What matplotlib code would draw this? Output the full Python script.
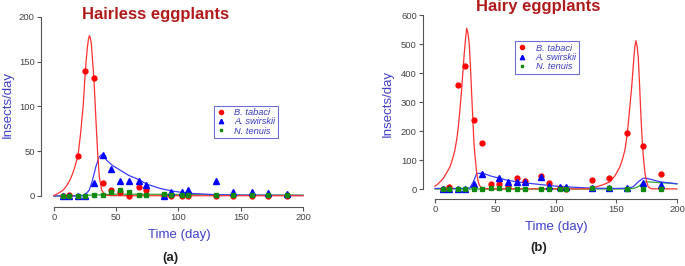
import numpy as np
import matplotlib
matplotlib.use("Agg")
import matplotlib.pyplot as plt

plt.rcParams['font.family'] = ['Liberation Sans', 'DejaVu Sans']

# === DATA ===
days = [7, 12, 19, 25, 32, 39, 46, 53, 60, 68, 74, 88, 94, 103, 108, 130, 144, 159, 172, 187]

# (a) hairless eggplants
a_tabaci = [0, 1.5, 45, 140, 132, 15, 7, 4, 0, 10, 7, 0, 0, 0, 0, 0, 0, 0, 0, 0]
a_swirskii = [0, 0, 0, 0, 14, 46, 30, 17, 17, 17, 12, 0, 5, 5, 7, 17, 5, 5, 3, 2]
a_tenuis = [0, 0, 0, 0, 1, 1, 4, 7, 5, 1, 1, 2, 1, 1, 1, 1, 1, 1, 1, 1]

a_fit_tabaci_x = [0, 0.8, 4, 7.5, 10, 12.9, 15, 16.9, 19.3, 21.4, 23.6, 25.2, 26.8, 27.7, 28.4,
                  29.2, 30, 32.1, 33.7, 35.1, 36.4, 38.3, 41, 45, 60, 200]
a_fit_tabaci_y = [0.5, 1, 3.5, 6.7, 11, 18, 25, 33, 45, 70, 103, 140, 166, 175, 179,
                  177, 170, 131, 85, 48, 21.5, 6.7, 1, 0.4, 0.3, 0.3]
a_fit_swirskii_x = [0, 22, 24.9, 28.4, 31, 33.7, 36.4, 38.8, 42.3, 47, 53, 60, 67.7, 75, 85, 95,
                    108, 130, 150, 200]
a_fit_swirskii_y = [0, 0, 1, 6.7, 18, 33, 44, 46.5, 40, 34, 29, 23, 18.6, 13, 8.5, 5.5,
                    3, 1.5, 1, 0.5]
a_fit_tenuis_x = [0, 20, 40, 50, 70, 90, 110, 150, 200]
a_fit_tenuis_y = [0, 0.5, 1.5, 2, 2, 1.8, 1.5, 1, 1]

# (b) hairy eggplants
b_tabaci = [0, 6, 360, 425, 238, 158, 18, 18, 8, 37, 28, 46, 21, 2, 0, 31, 39, 192, 149, 53]
b_swirskii_days = [7, 12, 19, 25, 32, 39, 53, 60, 68, 74, 88, 94, 103, 108, 130, 144, 159, 172, 187]
b_swirskii = [0, 0, 0, 0, 17, 51, 39, 23, 24, 25, 43, 10, 8, 8, 2, 5, 5, 22, 14]
b_tenuis = [0, 0, 0, 0, 0, 0, 2, 2, 0, 0, 0, 0, 0, 0, 0, 3, 3, 0, 0, 0]

b_fit_tabaci_x = [0, 1.4, 4, 6.9, 9.5, 12.4, 14.5, 16.5, 18, 19.3, 20.7, 22, 23.1, 24.2, 25.3, 26.2,
                  27.2, 28.3, 29.3, 30.3, 31.3, 32.2, 33.4, 34.5, 35.5, 36.6, 38, 40, 45,
                  128, 133.6, 139, 144.6, 149, 152.9, 155, 157, 158.5, 159.8, 161.2, 162.6,
                  163.7, 164.7, 165.4, 166.1, 167, 168, 169, 170, 170.8, 171.6, 172.6, 173.6,
                  174.9, 176.3, 178, 180, 200]
b_fit_tabaci_y = [10, 13.8, 24, 37, 55, 77, 103, 135, 172, 215, 277, 342, 405, 469, 520, 555,
                  540, 503, 425, 330, 240, 158, 100, 54, 30, 14, 6, 2, 0.5,
                  0.5, 8, 15, 25, 47, 77, 103, 135, 178, 227, 290, 353, 415, 469, 498, 512,
                  495, 457, 370, 273, 205, 146, 95, 54, 25, 8, 2, 0.5, 0.5]
b_fit_swirskii_x = [0, 25, 28.9, 31.7, 34.5, 40, 46, 53.7, 60, 67.5, 75, 88, 100, 115, 130, 150,
                    160, 163.9, 168, 172, 175, 186, 200]
b_fit_swirskii_y = [2, 2, 4, 25, 54, 54, 45, 37, 30, 25, 21, 15, 10, 6, 3, 2,
                    3, 8, 25, 37, 37, 25, 18]
b_fit_tenuis_x = [0, 160, 165, 168, 172, 175, 185, 200]
b_fit_tenuis_y = [0, 0, 3, 8, 22, 25, 22, 18]

# === STYLE ===
RED = "#ff0000"
BLUE = "#0000ff"
GREEN = "#0f8a0f"
LBL = "#4040c8"
TICK = "#444444"


def style_axes(ax, ymax, ystep):
    for s in ("top", "right"):
        ax.spines[s].set_visible(False)
    ax.spines["left"].set_bounds(0, ymax)
    ax.spines["bottom"].set_bounds(0, 200)
    for s in ("left", "bottom"):
        ax.spines[s].set_color("#555555")
        ax.spines[s].set_linewidth(0.8)
    ax.set_xticks([0, 50, 100, 150, 200])
    ax.set_yticks(np.arange(0, ymax + 1, ystep))
    ax.tick_params(colors="#555555", labelcolor=TICK, labelsize=6.8, length=3, width=0.8, pad=1.5)
    ax.set_facecolor("none")


def draw_panel(ax, d_t, t, d_s, s, d_n, n, fits):
    (tx, ty), (sx, sy), (nx, ny) = fits
    ax.plot(nx, ny, color="#33aa33", lw=0.9, zorder=2)
    ax.plot(sx, sy, color="#3c3cff", lw=0.9, zorder=2)
    ax.plot(tx, ty, color="#ff3030", lw=0.9, zorder=2)
    ax.plot(d_t, t, "o", color=RED, ms=3.5, ls="none", label="B. tabaci", zorder=3)
    ax.plot(d_s, s, "^", color=BLUE, ms=3.7, ls="none", label="A. swirskii", zorder=3)
    ax.plot(d_n, n, "s", color=GREEN, ms=2.4, ls="none", label="N. tenuis", zorder=3)


def add_legend(ax, anchor):
    leg = ax.legend(loc="upper left", bbox_to_anchor=anchor, fontsize=6.7, frameon=True,
                    fancybox=False, borderpad=0.3, handletextpad=0.9, labelspacing=0.02,
                    handlelength=1.0, borderaxespad=0, markerscale=0.85)
    leg.get_frame().set_edgecolor("#4a4ad0")
    leg.get_frame().set_linewidth(0.8)
    for txt in leg.get_texts():
        txt.set_color("#3a3ac0")
        txt.set_fontstyle("italic")


W, H = 685, 266
fig = plt.figure(figsize=(W / 100, H / 100), dpi=100)

# panel (a)
ax1 = fig.add_axes([41 / W, 1 - 207 / H, 274.5 / W, 199 / H])
draw_panel(ax1, days, a_tabaci, days, a_swirskii, days, a_tenuis,
           [(a_fit_tabaci_x, a_fit_tabaci_y), (a_fit_swirskii_x, a_fit_swirskii_y),
            (a_fit_tenuis_x, a_fit_tenuis_y)])
ax1.set_xlim(-10.4, 210)
ax1.set_ylim(-12.3, 210)
style_axes(ax1, 200, 50)
add_legend(ax1, (0.63, 0.51))

# panel (b)
ax2 = fig.add_axes([423 / W, 1 - 199 / H, 260 / W, 189.5 / H])
draw_panel(ax2, days, b_tabaci, b_swirskii_days, b_swirskii, days, b_tenuis,
           [(b_fit_tabaci_x, b_fit_tabaci_y), (b_fit_swirskii_x, b_fit_swirskii_y),
            (b_fit_tenuis_x, b_fit_tenuis_y)])
ax2.set_xlim(-9.9, 205)
ax2.set_ylim(-34.5, 620)
style_axes(ax2, 600, 100)
add_legend(ax2, (0.354, 0.834))

# texts
fig.text(156 / W, 1 - 15 / H, "Hairless eggplants", color="#b01c1c", fontsize=12,
         fontweight="bold", ha="center", va="center")
fig.text(538 / W, 1 - 7 / H, "Hairy eggplants", color="#b01c1c", fontsize=12,
         fontweight="bold", ha="center", va="center")
fig.text(179 / W, 1 - 235 / H, "Time (day)", color=LBL, fontsize=9.5, ha="center", va="center")
fig.text(556 / W, 1 - 227 / H, "Time (day)", color=LBL, fontsize=9.5, ha="center", va="center")
fig.text(8 / W, 1 - 105 / H, "Insects/day", color=LBL, fontsize=9.5, rotation=90,
         ha="center", va="center")
fig.text(388 / W, 1 - 103 / H, "Insects/day", color=LBL, fontsize=9.5, rotation=90,
         ha="center", va="center")
fig.text(170 / W, 1 - 258 / H, "(a)", color="#222222", fontsize=9.5, fontweight="bold",
         ha="center", va="center")
fig.text(539 / W, 1 - 248 / H, "(b)", color="#222222", fontsize=9.5, fontweight="bold",
         ha="center", va="center")

fig.savefig("out.png", dpi=100, facecolor="white")
